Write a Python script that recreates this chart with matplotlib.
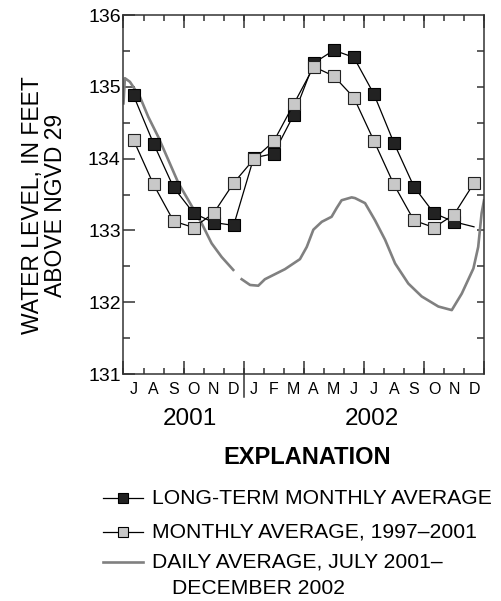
import numpy as np
import matplotlib
matplotlib.use('Agg')
from matplotlib import pyplot as plt
from matplotlib.lines import Line2D
import matplotlib.transforms as mtransforms

plt.rcParams['font.family'] = ['Liberation Sans', 'DejaVu Sans']

######### Data ############
months = ['J', 'A', 'S', 'O', 'N', 'D', 'J', 'F', 'M', 'A', 'M', 'J',
          'J', 'A', 'S', 'O', 'N', 'D']
years = ['2001', '2002']
year_pos = [3.3, 12.4]

# long-term monthly average (Jul 2001 - Dec 2002)
long_term = [134.88, 134.21, 133.60, 133.24, 133.11, 133.07,
             134.01, 134.07, 134.61, 135.33, 135.51, 135.41,
             134.90, 134.22, 133.61, 133.24, 133.12, 133.05]
# monthly average 1997-2001
avg_97_01 = [134.26, 133.64, 133.13, 133.04, 133.24, 133.66,
             133.99, 134.24, 134.76, 135.28, 135.15, 134.85,
             134.25, 133.64, 133.14, 133.04, 133.22, 133.66]

# daily average, months since 1 July 2001 (nan = missing record)
daily_m = [0.0, 0.07, 0.32, 0.82, 1.24, 1.74, 2.24, 2.74, 3.24, 3.90,
           4.40, 4.90, 5.48, 5.70, 5.90, 6.32, 6.73, 7.06, 7.56, 8.06,
           8.81, 9.15, 9.48, 9.90, 10.39, 10.64, 10.89, 11.39, 11.56,
           12.06, 12.56, 13.06, 13.56, 14.22, 14.89, 15.72, 16.39,
           16.89, 17.47, 17.71, 17.88, 18.0]
daily_v = [134.77, 135.12, 135.07, 134.86, 134.58, 134.30, 133.98,
           133.66, 133.42, 133.10, 132.82, 132.63, 132.45, np.nan,
           132.32, 132.24, 132.23, 132.32, 132.39, 132.46, 132.60,
           132.77, 133.01, 133.12, 133.19, 133.31, 133.42, 133.46,
           133.45, 133.38, 133.14, 132.87, 132.54, 132.26, 132.08,
           131.94, 131.89, 132.12, 132.47, 132.77, 133.24, 133.42]
###########################

mid = np.arange(len(months)) + 0.5
axcol = '#333333'

fig = plt.figure(figsize=(5.01, 6.01), dpi=100)
ax = fig.add_axes([0.2465, 0.3777, 0.7196, 0.5973])

ax.plot(daily_m, daily_v, color='#808080', lw=1.9, zorder=2)
ax.plot(mid, long_term, color='black', lw=0.9, marker='s', ms=8.5,
        mfc='#222222', mec='black', mew=0.8, markevery=list(range(17)),
        zorder=3)
ax.plot(mid, avg_97_01, color='black', lw=0.9, marker='s', ms=8.5,
        mfc='#c8c8c8', mec='#222222', mew=0.8, zorder=4)

ax.set_xlim(0, 18)
ax.set_ylim(131, 136)

for s in ax.spines.values():
    s.set_color(axcol)
    s.set_linewidth(1.1)

# y axis
ax.set_yticks(np.arange(131, 137))
ax.set_yticks(np.arange(131.5, 136, 1.0), minor=True)
ax.tick_params(axis='y', which='major', direction='in', length=8.6,
               width=1.1, color=axcol, labelsize=14, pad=2, right=False)
ax.tick_params(axis='y', which='minor', direction='in', length=5,
               width=1.1, color=axcol, right=False)
ry = ax.secondary_yaxis('right')
ry.set_yticks(np.arange(131.5, 136, 0.5))
ry.tick_params(direction='in', length=5, width=1.1, color=axcol,
               labelright=False)
ry.spines['right'].set_visible(False)

# x axis: month letters at centers, month ticks at boundaries
ax.set_xticks(mid)
ax.set_xticklabels(months)
ax.set_xticks(np.arange(0, 19), minor=True)
ax.tick_params(axis='x', which='major', length=0, labelsize=11.5, pad=6)
ax.tick_params(axis='x', which='minor', direction='in', length=4.3,
               width=1.1, color=axcol, top=True, bottom=True)
for loc in ['top', 'bottom']:
    qx = ax.secondary_xaxis(loc)
    qx.set_xticks(np.arange(0, 19, 3))
    qx.tick_params(direction='in', length=9.5, width=1.1, color=axcol,
                   labelbottom=False, labeltop=False)
    qx.spines[loc].set_visible(False)

# divider between years
trans = mtransforms.blended_transform_factory(ax.transData, ax.transAxes)
ax.plot([6, 6], [0, -0.064], color=axcol, lw=1.1, transform=trans,
        clip_on=False)
for yr, xp in zip(years, year_pos):
    ax.text(xp, -0.125, yr, transform=trans, ha='center', va='center',
            fontsize=17.5)

ax.set_ylabel('WATER LEVEL, IN FEET\nABOVE NGVD 29', fontsize=16.5,
              linespacing=1.0)
ax.yaxis.set_label_coords(-0.158, 0.47)

# explanation
def fy(py):
    return 1 - py / 601.0

def fx(px):
    return px / 501.0

fig.text(fx(307), fy(457), 'EXPLANATION', ha='center', va='center',
         fontsize=17, fontweight='bold')
entries = [('LONG-TERM MONTHLY AVERAGE', 'black', 0.9, '#222222', 498),
           ('MONTHLY AVERAGE, 1997\u20132001', 'black', 0.9, '#c8c8c8', 532),
           ('DAILY AVERAGE, JULY 2001\u2013', '#808080', 1.9, None, 562)]
for label, lc, lw, fc, py in entries:
    fig.add_artist(Line2D([fx(103), fx(143)], [fy(py), fy(py)], color=lc,
                          lw=lw, transform=fig.transFigure))
    if fc is not None:
        fig.add_artist(Line2D([fx(123)], [fy(py)], marker='s', ms=7.2,
                              mfc=fc, mec='black', mew=0.8, ls='none',
                              transform=fig.transFigure))
    fig.text(fx(152), fy(py), label, ha='left', va='center', fontsize=15.2)
fig.text(fx(172), fy(588), 'DECEMBER 2002', ha='left', va='center',
         fontsize=15.2)

fig.savefig('out.png', dpi=100)
